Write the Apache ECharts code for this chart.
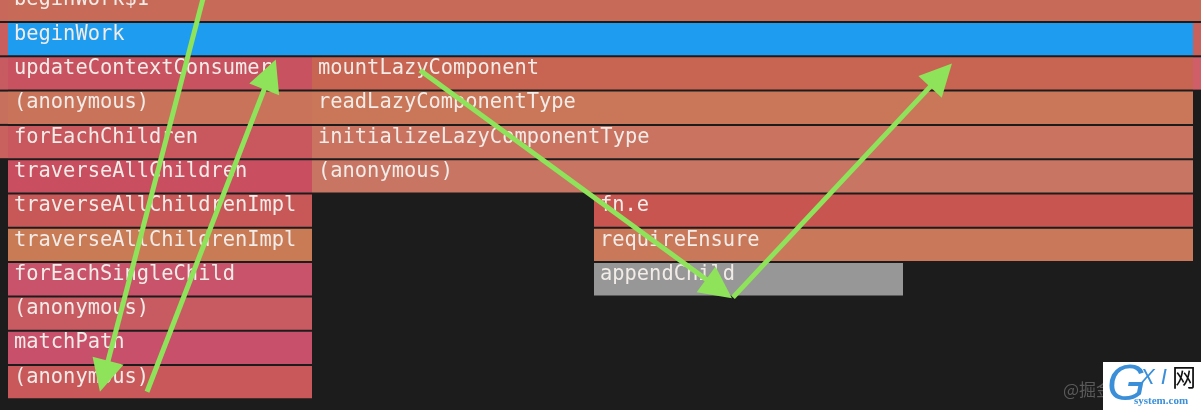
<!DOCTYPE html>
<html>
<head>
<meta charset="utf-8">
<script src="https://cdn.jsdelivr.net/npm/echarts@6/dist/echarts.min.js"></script>
<style>
  html, body { margin: 0; padding: 0; background: #1c1c1c; }
  #chart { width: 1201px; height: 410px; }
</style>
</head>
<body>
<div id="chart"></div>
<script>
// flame chart frames: one entry per bar (x in px-equivalent time units, depth = row)
const frameNames = [
  '', 'beginWork$1',
  '', 'beginWork', '',
  '', 'updateContextConsumer', 'mountLazyComponent', '',
  '', '(anonymous)', 'readLazyComponentType',
  '', 'forEachChildren', 'initializeLazyComponentType',
  'traverseAllChildren', '(anonymous)',
  'traverseAllChildrenImpl', 'fn.e',
  'traverseAllChildrenImpl', 'requireEnsure',
  'forEachSingleChild', 'appendChild',
  '(anonymous)',
  'matchPath',
  '(anonymous)'
];
const frameStart = [
  0, 8,
  0, 8, 1193,
  0, 8, 312, 1193,
  0, 8, 312,
  0, 8, 312,
  8, 312,
  8, 594,
  8, 594,
  8, 594,
  8,
  8,
  8
];
const frameEnd = [
  8, 1201,
  8, 1193, 1201,
  8, 312, 1193, 1201,
  8, 312, 1193,
  8, 312, 1193,
  312, 1193,
  312, 1193,
  312, 1193,
  312, 903,
  312,
  312,
  312
];
const frameDepth = [
  0, 0,
  1, 1, 1,
  2, 2, 2, 2,
  3, 3, 3,
  4, 4, 4,
  5, 5,
  6, 6,
  7, 7,
  8, 8,
  9,
  10,
  11
];
// colours per frame
const frameColors = [
  '#c8685a', '#c86a58',
  '#c85e5e', '#1e9cf0', '#c8605c',
  '#c85a62', '#c8525f', '#c86552', '#cf5e68',
  '#c8705e', '#c9745a', '#c97758',
  '#c9625e', '#c9575e', '#c97360',
  '#c94f60', '#c87563',
  '#c85858', '#c8554f',
  '#c97b56', '#c9795a',
  '#c9536a',
  '#979797',
  '#c85b62',
  '#c8506a',
  '#c9585a'
];
// green annotation arrows: [x0, depth0, x1, depth1] (end = arrow head centre)
const arrows = [
  [204, 0.18, 104, 11.3],
  [147, 11.75, 270, 2.5],
  [420, 2.38, 719, 8.75],
  [733, 9.0, 941, 2.52]
];

const frames = frameNames.map((n, i) => [frameStart[i], frameEnd[i], frameDepth[i], n, frameColors[i]]);

function renderFrame(params, api) {
  const x0 = api.value(0), x1 = api.value(1), d = api.value(2);
  const p0 = api.coord([x0, d]);
  const p1 = api.coord([x1, d + 1]);
  const w = p1[0] - p0[0];
  const h = p1[1] - p0[1] - 2;
  const name = frames[params.dataIndex][3];
  const color = frames[params.dataIndex][4];
  return {
    type: 'group',
    children: [
      { type: 'rect', shape: { x: p0[0], y: p0[1], width: w, height: h }, style: { fill: color } },
      {
        type: 'text',
        x: p0[0] + 6, y: p0[1] + 11.5,
        style: {
          text: name,
          fill: '#f2ece8',
          font: '20.4px "DejaVu Sans Mono"',
          verticalAlign: 'middle',
          width: Math.max(w - 6, 0),
          overflow: 'truncate',
          ellipsis: ''
        }
      }
    ]
  };
}

const chart = echarts.init(document.getElementById('chart'));
chart.setOption({
  backgroundColor: '#1c1c1c',
  animation: false,
  grid: { left: 0, right: 0, top: 0, bottom: 0 },
  xAxis: { type: 'value', min: 0, max: 1201, show: false },
  yAxis: { type: 'value', min: 11.3 / 34.3, max: 421.3 / 34.3, inverse: true, show: false },
  series: [
    {
      type: 'custom',
      renderItem: renderFrame,
      encode: { x: [0, 1], y: 2 },
      data: frames,
      clip: false
    },
    {
      type: 'lines',
      coordinateSystem: 'cartesian2d',
      symbol: ['none', 'triangle'],
      symbolSize: [0, 32],
      lineStyle: { color: '#8ee35a', width: 5, opacity: 1, curveness: 0 },
      data: arrows.map(a => ({ coords: [[a[0], a[1]], [a[2], a[3]]] })),
      z: 10
    }
  ],
  graphic: [
    { type: 'text', right: 88, bottom: 12, style: { text: '@掘金', fill: '#5a5a5a', font: '17px "Noto Sans CJK SC"' }, z: 20 },
    { type: 'rect', shape: { x: 1103, y: 362, width: 98, height: 48 }, style: { fill: '#ffffff' }, z: 20 },
    { type: 'text', x: 1107, y: 361, style: { text: 'G', fill: '#3a8fd8', font: 'italic 50px "Liberation Sans"' }, z: 21 },
    { type: 'text', x: 1140, y: 367, style: { text: 'X I', fill: '#3a8fd8', font: 'italic 22px "Liberation Sans"' }, z: 21 },
    { type: 'text', x: 1172, y: 365, style: { text: '网', fill: '#111111', font: '24px "Noto Sans CJK SC"' }, z: 21 },
    { type: 'text', x: 1134, y: 396, style: { text: 'system.com', fill: '#3a8fd8', font: 'bold 11px "Liberation Serif"' }, z: 21 }
  ]
});
</script>
</body>
</html>
